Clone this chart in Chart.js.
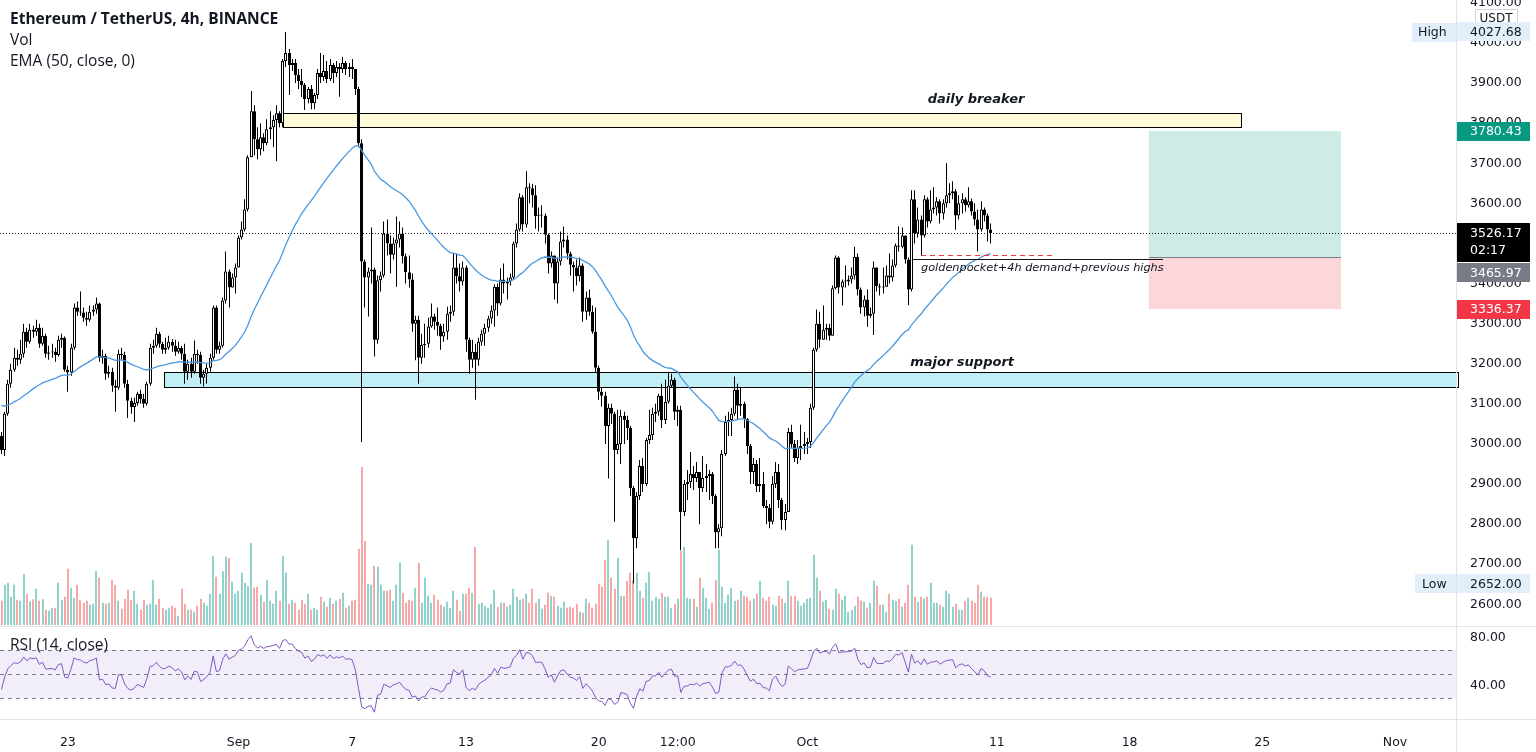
<!DOCTYPE html>
<html>
<head>
<meta charset="utf-8">
<script src="https://cdn.jsdelivr.net/npm/chart.js@4.4.0/dist/chart.umd.min.js"></script>
<style>
  html, body { margin: 0; padding: 0; background: #fff; overflow: hidden; }
  #wrap { width: 1536px; height: 752px; }
</style>
</head>
<body>
<div id="wrap"><canvas id="c" width="1536" height="752"></canvas></div>
<script>
// ETH/USDT 4h candles, first candle Aug 19 12:00, one every 4 hours
const firstOpen = 3020;
const close = [
  2985,3075,3150,3185,3215,3210,3225,3280,3255,3285, 3280,3290,3250,3270,3225,3228,3230,3222,3260,3265,
  3185,3178,3240,3340,3330,3328,3315,3310,3330,3335, 3350,3215,3220,3175,3180,3145,3140,3225,3222,3150,
  3108,3092,3102,3125,3112,3100,3150,3240,3245,3275, 3250,3235,
  3240,3255,3245,3230,3240,3225,3180,3200, 3180,3225,3222,3165,3175,3190,3215,3340,3235,3245,
  3358,3430,3390,3415,3440,3515,3535,3585,3715,3830, 3760,3735,3765,3750,3785,3790,3808,3825,3800,3955,
  3975,3945,3950,3920,3905,3895,3860,3885,3850,3870, 3925,3915,3930,3910,
  3945,3925,3940,3935,3950,3935, 3940,3935,3885,3750,3455,3415,3430,3435,3260,3408,
  3420,3525,3500,3472,3500,3510,3525,3468,3428,3410, 3300,3310,3215,3247,3250,3293,3318,3305,3295,3268,
  3280,3325,3330,3440,3418,3405,3440,3260,3210,3230, 3210,3255,3275,3290,3313,3333,
  3392,3350,3410,3400, 3405,3415,3500,3535,3615,3547,3640,3638,3620,3568,
  3570,3570,3522,3450,3470,3400,3455,3505,3510,3475, 3447,3440,3418,3445,3330,3365,3330,3280,3190,3130,
  3120,3045,3090,3075,2985,3000,3070,3060,3040,2890, 2765,2870,2945,2900,3010,3022,3075,3080,3120,
  3060,3105,3145,3160,3080,3085,2830,2900,2905,2925,2915,
  2930,2890,2915,2920,2925,2870,2780,2790,2975,3055, 3060,3075,3135,3095,3100,3062,2995,2930,2950,2895,
  2900,2845,2840,2806,2900,2930,2860,2810,2830,3030, 3000,2965,2990,2995,3000,3005,3090,3235,3300,3260,
  3285,3290,3270,3388,3465,3390,3405,3405,3410,3420, 3467,3385,3340,3360,3320,3325,3440,3393,3390,3392,
  3420,3415,3445,3495,3492,3520,3460,3385,3610,3525, 3560,3520,3610,3555,3585,3590,3605,3575,3600,3620,
  3625,3630,3570,3600,3610,3595,3605,3580,3560,3535, 3585,3570,3535,3526.17
];
const high = [
  3030,3080,3160,3200,3240,3235,3260,3300,3290,3300, 3295,3310,3300,3290,3275,3245,3250,3240,3270,3275,
  3268,3195,3250,3350,3355,3380,3340,3330,3345,3345, 3365,3352,3235,3225,3195,3190,3160,3235,3240,3230,
  3160,3115,3115,3130,3135,3125,3155,3250,3260,3290, 3280,3255,
  3265,3270,3262,3260,3255,3245,3250,3210, 3215,3258,3235,3230,3185,3200,3225,3345,3345,3255,
  3365,3480,3435,3425,3450,3520,3555,3610,3720,3880, 3845,3790,3800,3775,3810,3830,3820,3845,3830,3960,
  4027.68,3985,3960,3960,3935,3935,3900,3890,3895,3875, 3935,3975,3970,3955,
  3960,3950,3955,3950,3965,3955, 3950,3960,3930,3890,3760,3460,3440,3540,3440,3420,
  3430,3555,3560,3520,3515,3567,3555,3540,3475,3470, 3425,3320,3320,3275,3300,3315,3350,3325,3340,3300,
  3300,3342,3345,3475,3475,3450,3455,3445,3265,3260, 3250,3265,3285,3300,3320,3345,
  3398,3400,3438,3450, 3415,3425,3505,3550,3625,3620,3680,3650,3648,3645,
  3590,3595,3575,3525,3480,3460,3465,3530,3542,3520, 3480,3455,3460,3465,3450,3380,3385,3345,3340,3195,
  3140,3130,3100,3100,3080,3085,3085,3080,3070,3045, 2895,2880,2960,2965,3015,3085,3090,3100,3125,
  3150,3160,3180,3175,3165,3095,3095,2910,2935,2980,2945,
  2955,2930,2970,2950,2935,2930,2875,2800,2985,3070, 3080,3090,3168,3150,3140,3105,3065,3000,2965,2960,
  2965,2930,2860,2850,2920,2955,2950,2865,2850,3040, 3048,3010,3010,3048,3030,3015,3100,3240,3335,3330,
  3345,3300,3300,3395,3470,3468,3410,3445,3420,3440, 3492,3475,3390,3370,3385,3340,3455,3430,3400,3440,
  3445,3475,3460,3500,3542,3540,3520,3465,3633,3633, 3590,3570,3620,3615,3633,3640,3615,3610,3610,3700,
  3650,3655,3635,3620,3625,3615,3640,3612,3600,3585, 3605,3590,3575,3550
];
const low = [
  2975,2970,3070,3140,3180,3195,3200,3215,3240,3250, 3265,3270,3240,3245,3215,3210,3215,3205,3218,3240,
  3180,3130,3170,3235,3320,3320,3305,3295,3305,3320, 3325,3205,3200,3160,3165,3130,3080,3135,3210,3140,
  3065,3075,3055,3095,3100,3090,3095,3145,3225,3240, 3240,3225,
  3225,3235,3230,3220,3225,3210,3150,3160, 3165,3175,3200,3150,3143,3150,3180,3210,3225,3225,
  3240,3350,3340,3395,3375,3440,3510,3530,3580,3715, 3720,3710,3720,3730,3745,3760,3740,3705,3790,3790,
  3940,3870,3930,3900,3885,3865,3833,3850,3835,3835, 3860,3900,3905,3900,
  3905,3900,3915,3866,3925,3920, 3915,3910,3870,3740,3005,3340,3318,3400,3218,3250,
  3380,3415,3470,3425,3460,3392,3490,3450,3400,3390, 3280,3209,3150,3200,3215,3240,3290,3285,3270,3235,
  3255,3260,3305,3320,3400,3380,3395,3230,3175,3190, 3110,3195,3245,3245,3280,3300,
  3292,3320,3345,3375, 3360,3395,3410,3490,3530,3530,3540,3600,3590,3537,
  3530,3540,3500,3425,3440,3360,3350,3445,3490,3460, 3420,3380,3395,3405,3305,3310,3320,3275,3180,3110,
  3093,3000,2914,3050,2806,2975,2950,3000,3010,2870, 2652,2740,2860,2880,2895,3000,3010,3055,3070,
  3040,3050,3100,3140,3060,3045,2735,2820,2860,2890,2885,
  2905,2800,2880,2880,2860,2850,2740,2740,2770,2970, 3020,3020,3070,3060,3070,3040,2975,2900,2900,2880,
  2880,2840,2800,2790,2800,2890,2840,2786,2785,2845, 2990,2955,2950,2960,2975,2975,2990,3085,3230,3240,
  3270,3260,3258,3270,3385,3375,3345,3390,3395,3400, 3410,3370,3325,3318,3292,3315,3272,3380,3370,3375,
  3395,3400,3405,3440,3480,3488,3450,3346,3380,3500, 3515,3470,3515,3540,3550,3575,3570,3550,3560,3590,
  3600,3610,3534,3560,3575,3580,3590,3570,3545,3480, 3530,3555,3505,3500
];
// volume, relative units
const volume = [
  73,121,127,85,121,76,73,152,93,71, 77,109,73,77,46,43,50,52,127,76,
  85,169,112,82,121,76,67,73,61,64, 161,142,67,64,67,136,121,73,49,79,
  106,76,103,64,46,76,61,64,136,61, 79,52,46,50,58,52,28,109,64,46,
  46,40,58,79,67,58,94,208,145,94, 161,205,201,130,94,103,157,127,118,246,
  112,115,91,70,136,73,64,103,73,208, 157,64,76,67,46,76,64,94,46,52,
  46,85,70,55,82,64,73,79,97,52, 58,73,76,229,474,253,124,121,178,175,
  121,103,103,106,73,121,187,97,67,76, 73,112,187,67,142,88,67,91,76,61,
  55,70,52,103,76,43,94,94,112,97, 235,64,67,58,52,64,106,
  55,67,67,55,61,109,85,76,79,94, 67,109,67,79,49,61,97,88,85,58,
  52,70,52,55,52,64,40,37,79,67, 52,64,124,115,196,256,142,109,202,88,
  88,133,157,133,157,103,82,127,160,73, 85,79,97,85,85,52,64,79,223,235,
  82,79,79,55,142,112,82,49,67,136, 226,115,67,91,112,73,76,103,88,85,
  73,79,94,133,82,73,85,61,58,88, 79,67,133,88,88,73,58,67,79,82,
  211,142,103,70,76,49,46,109,94,76, 88,40,46,58,85,73,70,52,67,133,
  118,61,61,40,94,76,73,79,55,67, 121,241,85,70,85,79,85,127,67,67,
  61,55,103,94,55,64,46,46,73,82, 73,67,121,100,85,85,82
];

const emaSeed = 3100;          // EMA(50) level at the left edge
const rsiSeed = [14, 21];       // avg gain / avg loss at the left edge
const timeTickIndex = [21, 75, 111, 147, 189, 214, 255, 315, 357, 399, 441];
const timeTickText = ['23', 'Sep', '7', '13', '20', '12:00', 'Oct', '11', '18', '25', 'Nov'];
const priceTicks = [2600, 2700, 2800, 2900, 3000, 3100, 3200, 3300, 3400, 3500, 3600, 3700, 3800, 3900, 4000, 4100];

const highMark = 4027.68, lowMark = 2652.00;
const lastPrice = 3526.17;
const target = 3780.43, entry = 3465.97, stop = 3336.37;

const N = close.length;
const open = close.map((c, i) => (i === 0 ? firstOpen : close[i - 1]));
const hi = high.map((h, i) => Math.max(h, open[i], close[i]));
const lo = low.map((l, i) => Math.min(l, open[i], close[i]));
const up = close.map((c, i) => c >= open[i]);

const k = 2 / 51;
let e = emaSeed;
const ema = close.map(c => (e = e + k * (c - e)));

let ag = rsiSeed[0], al = rsiSeed[1];
const rsi = close.map((c, i) => {
  const ch = c - open[i];
  ag = (ag * 13 + Math.max(ch, 0)) / 14;
  al = (al * 13 + Math.max(-ch, 0)) / 14;
  return 100 - 100 / (1 + ag / al);
});

const TXT = '#131722';
const AXIS_FONT = '12.5px "DejaVu Sans"';

function tag(ctx, x1, x2, yc, h, bg, text, color) {
  ctx.fillStyle = bg;
  ctx.fillRect(x1, Math.round(yc - h / 2), x2 - x1, h);
  ctx.fillStyle = color;
  ctx.font = AXIS_FONT;
  ctx.textAlign = 'left';
  ctx.textBaseline = 'middle';
  ctx.fillText(text, 1470, yc + 1);
}

// snap candle / volume bars to whole pixels so they stay crisp
const snapBars = {
  id: 'snapBars',
  beforeDatasetsDraw(chart) {
    chart.data.datasets.forEach((ds, di) => {
      const meta = chart.getDatasetMeta(di);
      if (meta.type !== 'bar') return;
      const odd = ds.barThickness % 2 === 1;
      meta.data.forEach(el => { el.x = odd ? Math.floor(el.x) + 0.5 : Math.round(el.x); });
    });
  }
};

const overlay = {
  id: 'overlay',
  beforeDatasetsDraw(chart) {
    const { ctx, chartArea: a, scales: { x, y, yRsi } } = chart;
    ctx.save();
    // RSI band
    const r70 = yRsi.getPixelForValue(70), r50 = yRsi.getPixelForValue(50), r30 = yRsi.getPixelForValue(30);
    ctx.fillStyle = 'rgba(126,87,194,0.1)';
    ctx.fillRect(a.left, r70, a.right - a.left, r30 - r70);
    ctx.strokeStyle = '#787b86';
    ctx.lineWidth = 1;
    ctx.setLineDash([4, 4]);
    [r70, r50, r30].forEach(v => {
      ctx.beginPath(); ctx.moveTo(a.left, Math.round(v) + 0.5); ctx.lineTo(a.right, Math.round(v) + 0.5); ctx.stroke();
    });
    ctx.setLineDash([]);

    // daily breaker
    let x1 = x.getPixelForValue(89.1), x2 = x.getPixelForValue(392.2);
    let y1 = y.getPixelForValue(3825), y2 = y.getPixelForValue(3790);
    ctx.fillStyle = '#fffbd8';
    ctx.fillRect(x1, y1, x2 - x1, y2 - y1);
    ctx.strokeStyle = '#000';
    ctx.strokeRect(Math.round(x1) + 0.5, Math.round(y1) + 0.5, Math.round(x2 - x1), Math.round(y2 - y1));

    // major support
    x1 = x.getPixelForValue(51.4); x2 = a.right;
    y1 = y.getPixelForValue(3179); y2 = y.getPixelForValue(3142);
    ctx.fillStyle = '#c2eef5';
    ctx.fillRect(x1, y1, x2 - x1, y2 - y1);
    ctx.strokeRect(Math.round(x1) + 0.5, Math.round(y1) + 0.5, Math.round(x2 - x1) + 2, Math.round(y2 - y1));

    // long position
    x1 = x.getPixelForValue(363.1); x2 = x.getPixelForValue(423.9);
    const yt = y.getPixelForValue(target), ye = y.getPixelForValue(entry), ys = y.getPixelForValue(stop);
    ctx.fillStyle = 'rgba(8,153,129,0.2)';
    ctx.fillRect(x1, yt, x2 - x1, ye - yt);
    ctx.fillStyle = 'rgba(242,54,69,0.2)';
    ctx.fillRect(x1, ye, x2 - x1, ys - ye);
    ctx.strokeStyle = '#787b86';
    ctx.beginPath(); ctx.moveTo(x1, Math.round(ye) + 0.5); ctx.lineTo(x2, Math.round(ye) + 0.5); ctx.stroke();

    // last price dotted line
    const yl = Math.round(y.getPixelForValue(lastPrice)) + 0.5;
    ctx.strokeStyle = '#131722';
    ctx.setLineDash([1, 2]);
    ctx.beginPath(); ctx.moveTo(a.left, yl); ctx.lineTo(a.right, yl); ctx.stroke();
    ctx.setLineDash([]);
    ctx.restore();
  },
  afterDatasetsDraw(chart) {
    const { ctx, scales: { x, y } } = chart;
    ctx.save();
    // demand line + red dashed level
    let yy = Math.round(y.getPixelForValue(3462)) + 0.5;
    ctx.strokeStyle = '#131722';
    ctx.lineWidth = 1;
    ctx.beginPath(); ctx.moveTo(x.getPixelForValue(288.5), yy); ctx.lineTo(x.getPixelForValue(367.6), yy); ctx.stroke();
    yy = Math.round(y.getPixelForValue(3471)) + 0.5;
    ctx.strokeStyle = '#f23645';
    ctx.setLineDash([5, 4]);
    ctx.beginPath(); ctx.moveTo(x.getPixelForValue(291), yy); ctx.lineTo(x.getPixelForValue(333.4), yy); ctx.stroke();
    ctx.setLineDash([]);

    ctx.fillStyle = TXT;
    ctx.textBaseline = 'middle';
    ctx.textAlign = 'center';
    ctx.font = 'italic bold 13px "DejaVu Sans"';
    ctx.fillText('daily breaker', x.getPixelForValue(308.4), y.getPixelForValue(3858));
    ctx.fillText('major support', x.getPixelForValue(304), y.getPixelForValue(3204));
    ctx.textAlign = 'left';
    ctx.font = 'italic 11.3px "DejaVu Sans"';
    ctx.fillText('goldenpocket+4h demand+previous highs', x.getPixelForValue(291), y.getPixelForValue(3439));
    ctx.restore();
  },
  afterDraw(chart) {
    const { ctx, chartArea: a, scales: { y } } = chart;
    ctx.save();
    // pane separators
    ctx.strokeStyle = '#e0e3eb';
    ctx.lineWidth = 1;
    ctx.beginPath();
    ctx.moveTo(a.right + 0.5, 0); ctx.lineTo(a.right + 0.5, 752);
    ctx.moveTo(0, 626.5); ctx.lineTo(1536, 626.5);
    ctx.moveTo(0, a.bottom + 0.5); ctx.lineTo(1536, a.bottom + 0.5);
    ctx.stroke();

    // legend
    ctx.fillStyle = TXT;
    ctx.textAlign = 'left';
    ctx.textBaseline = 'middle';
    ctx.font = 'bold 15.5px "Open Sans"';
    ctx.fillText('Ethereum / TetherUS, 4h, BINANCE', 10, 20);
    ctx.font = '15.5px "Open Sans"';
    ctx.fillText('Vol', 10, 41);
    ctx.fillText('EMA (50, close, 0)', 10, 62);
    ctx.fillText('RSI (14, close)', 10, 646);

    // RSI axis labels
    const yRsi = chart.scales.yRsi;
    ctx.font = AXIS_FONT;
    [80, 40].forEach(v => ctx.fillText(v.toFixed(2), 1470, yRsi.getPixelForValue(v)));

    // USDT badge
    ctx.fillStyle = '#fff';
    ctx.strokeStyle = '#d1d4dc';
    ctx.fillRect(1475, 9, 42, 18);
    ctx.strokeRect(1475.5, 9.5, 42, 18);
    ctx.fillStyle = TXT;
    ctx.font = '12px "DejaVu Sans"';
    ctx.textAlign = 'center';
    ctx.fillText('USDT', 1496, 19);

    // high / low markers
    const yh = y.getPixelForValue(highMark), ylw = y.getPixelForValue(lowMark);
    ctx.fillStyle = '#e3eefb';
    ctx.fillRect(1412, Math.round(yh - 9), 44, 19);
    ctx.fillRect(1415, Math.round(ylw - 9), 41, 19);
    ctx.fillStyle = TXT;
    ctx.font = AXIS_FONT;
    ctx.textAlign = 'left';
    ctx.fillText('High', 1418, yh + 1);
    ctx.fillText('Low', 1422, ylw + 1);
    tag(ctx, 1457, 1530, yh, 19, '#e3eefb', highMark.toFixed(2), TXT);
    tag(ctx, 1457, 1530, ylw, 19, '#e3eefb', lowMark.toFixed(2), TXT);

    // price tags
    const yT = y.getPixelForValue(target);
    tag(ctx, 1457, 1530, yT, 19, '#089981', target.toFixed(2), '#fff');
    const yL = y.getPixelForValue(lastPrice);
    ctx.fillStyle = '#000';
    ctx.fillRect(1457, Math.round(yL - 10), 73, 39);
    ctx.fillStyle = '#fff';
    ctx.fillText(lastPrice.toFixed(2), 1470, yL + 1);
    ctx.fillText('02:17', 1470, yL + 18);
    const yE = Math.max(y.getPixelForValue(entry), yL + 39.5);
    tag(ctx, 1457, 1530, yE, 19, '#787b86', entry.toFixed(2), '#fff');
    tag(ctx, 1457, 1530, y.getPixelForValue(stop), 19, '#f23645', stop.toFixed(2), '#fff');
    ctx.restore();
  }
};

Chart.defaults.font.family = '"DejaVu Sans"';

new Chart(document.getElementById('c'), {
  type: 'bar',
  data: {
    datasets: [
      {
        type: 'line', label: 'EMA', yAxisID: 'y', order: -1,
        data: ema.map((v, i) => ({ x: i, y: v })),
        borderColor: '#4a98e0', borderWidth: 1.3, pointRadius: 0, tension: 0
      },
      {
        label: 'body', yAxisID: 'y', order: 0,
        data: open.map((o, i) => ({ x: i, y: [o, close[i]] })),
        backgroundColor: up.map(u => (u ? '#ffffff' : '#000000')),
        borderColor: '#000', borderWidth: 1, borderSkipped: false,
        barThickness: 3, minBarLength: 1, grouped: false, inflateAmount: 0
      },
      {
        label: 'wick', yAxisID: 'y', order: 1,
        data: lo.map((l, i) => ({ x: i, y: [l, hi[i]] })),
        backgroundColor: '#000', barThickness: 1, minBarLength: 1, grouped: false, inflateAmount: 0
      },
      {
        type: 'line', label: 'RSI', yAxisID: 'yRsi', order: 3,
        data: rsi.map((v, i) => ({ x: i, y: v })),
        borderColor: '#7e57c2', borderWidth: 1, pointRadius: 0, tension: 0
      },
      {
        label: 'Vol', yAxisID: 'yVol', order: 4,
        data: volume.slice(0, N).map((v, i) => ({ x: i, y: v })),
        backgroundColor: up.map(u => (u ? 'rgba(38,166,154,0.5)' : 'rgba(239,83,80,0.5)')),
        barThickness: 2, grouped: false, inflateAmount: 0
      }
    ]
  },
  options: {
    responsive: false,
    animation: false,
    events: [],
    layout: { padding: 0, autoPadding: false },
    plugins: { legend: { display: false }, tooltip: { enabled: false } },
    scales: {
      x: {
        type: 'linear', min: -0.475, max: 460.3, offset: false,
        grid: { display: false, offset: false }, border: { display: false },
        afterBuildTicks: s => { s.ticks = timeTickIndex.map(v => ({ value: v })); },
        afterFit: s => { s.height = 33; s.paddingLeft = 0; s.paddingRight = 0; },
        ticks: {
          autoSkip: false, maxRotation: 0, padding: 8, color: TXT, font: { size: 12.5 },
          callback: v => timeTickText[timeTickIndex.indexOf(v)]
        }
      },
      y: {
        type: 'linear', position: 'right', min: 2314, max: 4107.2,
        grid: { display: false, drawTicks: false }, border: { display: false },
        afterBuildTicks: s => { s.ticks = priceTicks.map(v => ({ value: v })); },
        afterFit: s => { s.width = 80; s.paddingTop = 0; s.paddingBottom = 0; },
        ticks: { autoSkip: false, padding: 14, color: TXT, font: { size: 12.5 }, callback: v => v.toFixed(2) }
      },
      yRsi: { type: 'linear', position: 'right', display: false, min: 12.5, max: 611.67 },
      yVol: { type: 'linear', position: 'right', display: false, min: -282, max: 1875 }
    }
  },
  plugins: [snapBars, overlay]
});
</script>
</body>
</html>
